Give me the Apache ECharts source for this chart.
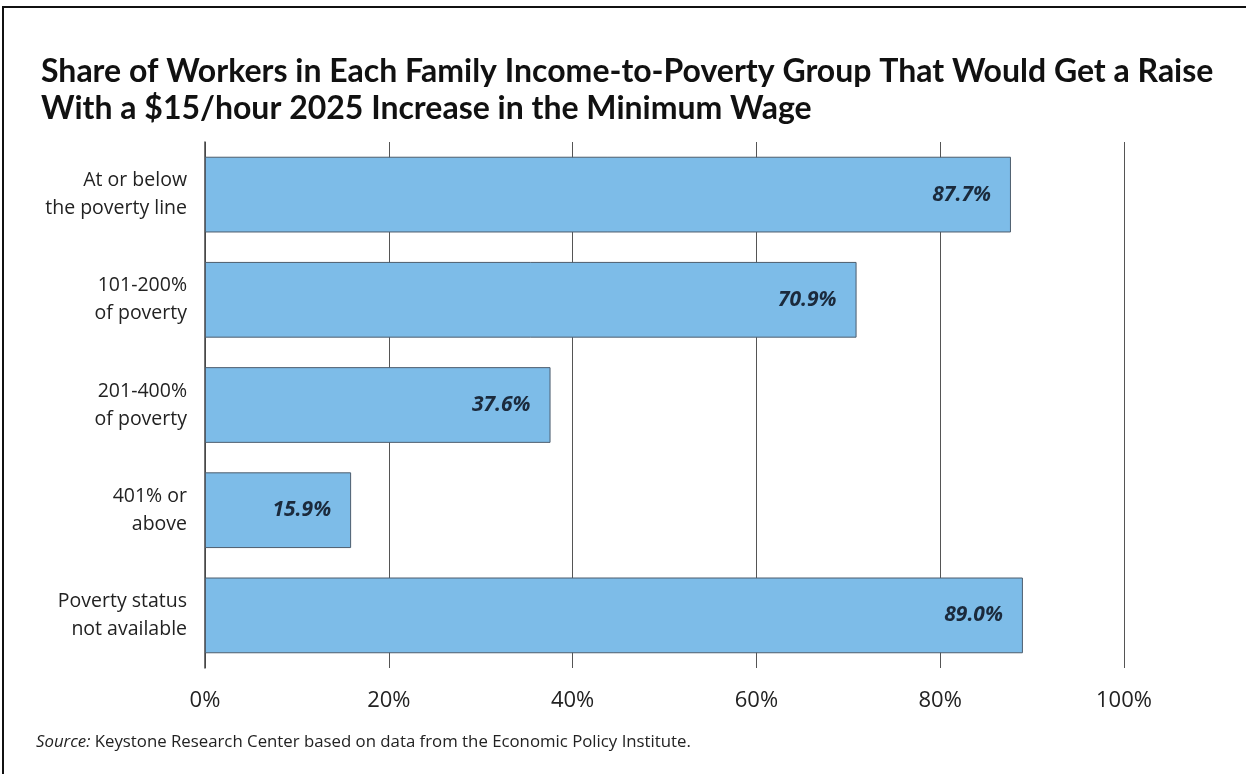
<!DOCTYPE html>
<html>
<head>
<meta charset="utf-8">
<script src="https://cdn.jsdelivr.net/npm/echarts@6/dist/echarts.min.js"></script>
<style>
  html, body { margin: 0; padding: 0; background: #fff; }
  #chart { width: 1246px; height: 774px; }
</style>
</head>
<body>
<div id="chart"></div>
<script>
// Income-to-poverty groups, top to bottom
const categories = [
  'At or below\nthe poverty line',
  '101-200%\nof poverty',
  '201-400%\nof poverty',
  '401% or\nabove',
  'Poverty status\nnot available'
];
// Share of workers getting a raise (%)
const shares = [87.7, 70.9, 37.6, 15.9, 89.0];
// X-axis tick values (%)
const ticks = [0, 20, 40, 60, 80, 100];

const titleLines = [
  'Share of Workers in Each Family Income-to-Poverty Group That Would Get a Raise',
  'With a $15/hour 2025 Increase in the Minimum Wage'
];

const bodyFont = 'Open Sans';

const chart = echarts.init(document.getElementById('chart'));

chart.setOption({
  animation: false,
  backgroundColor: '#ffffff',
  title: {
    text: titleLines.join('\n'),
    left: 36,
    top: 48,
    textStyle: {
      fontFamily: 'Lato',
      fontWeight: 'bold',
      fontSize: 32,
      lineHeight: 37,
      color: '#111111'
    }
  },
  graphic: [
    {
      type: 'rect',
      shape: { x: 3, y: 7, width: 1260, height: 800 },
      style: { fill: 'none', stroke: '#111111', lineWidth: 2 },
      silent: true
    },
    {
      type: 'text',
      left: 36,
      top: 734,
      style: {
        text: '{i|Source:} Keystone Research Center based on data from the Economic Policy Institute.',
        rich: {
          i: { fontStyle: 'italic', fontFamily: bodyFont, fontSize: 16.8, fill: '#222222' }
        },
        fontFamily: bodyFont,
        fontSize: 16.8,
        fill: '#222222'
      }
    }
  ],
  grid: {
    left: 205,
    right: 122,
    top: 142,
    bottom: 106,
    containLabel: false
  },
  xAxis: {
    type: 'value',
    min: ticks[0],
    max: ticks[ticks.length - 1],
    interval: ticks[1] - ticks[0],
    axisLine: { show: false },
    axisTick: { show: false },
    axisLabel: {
      formatter: '{value}%',
      fontFamily: bodyFont,
      fontSize: 22,
      color: '#222222',
      margin: 22
    },
    splitLine: {
      show: true,
      lineStyle: { color: '#555555', width: 1 }
    }
  },
  yAxis: {
    type: 'category',
    inverse: true,
    data: categories,
    axisLine: { show: true, lineStyle: { color: '#444444', width: 1.5 } },
    axisTick: { show: false },
    axisLabel: {
      fontFamily: bodyFont,
      fontSize: 19.5,
      lineHeight: 28,
      color: '#222222',
      margin: 18,
      align: 'right'
    }
  },
  series: [
    {
      type: 'bar',
      data: shares,
      barCategoryGap: '28%',
      itemStyle: {
        color: '#7dbce8',
        borderColor: '#4d5d6d',
        borderWidth: 1
      },
      label: {
        show: true,
        position: 'insideRight',
        distance: 20,
        formatter: (p) => p.value.toFixed(1) + '%',
        fontFamily: bodyFont,
        fontStyle: 'italic',
        fontWeight: 'bold',
        fontSize: 21,
        color: '#1b2a3c'
      }
    }
  ]
});
</script>
</body>
</html>
